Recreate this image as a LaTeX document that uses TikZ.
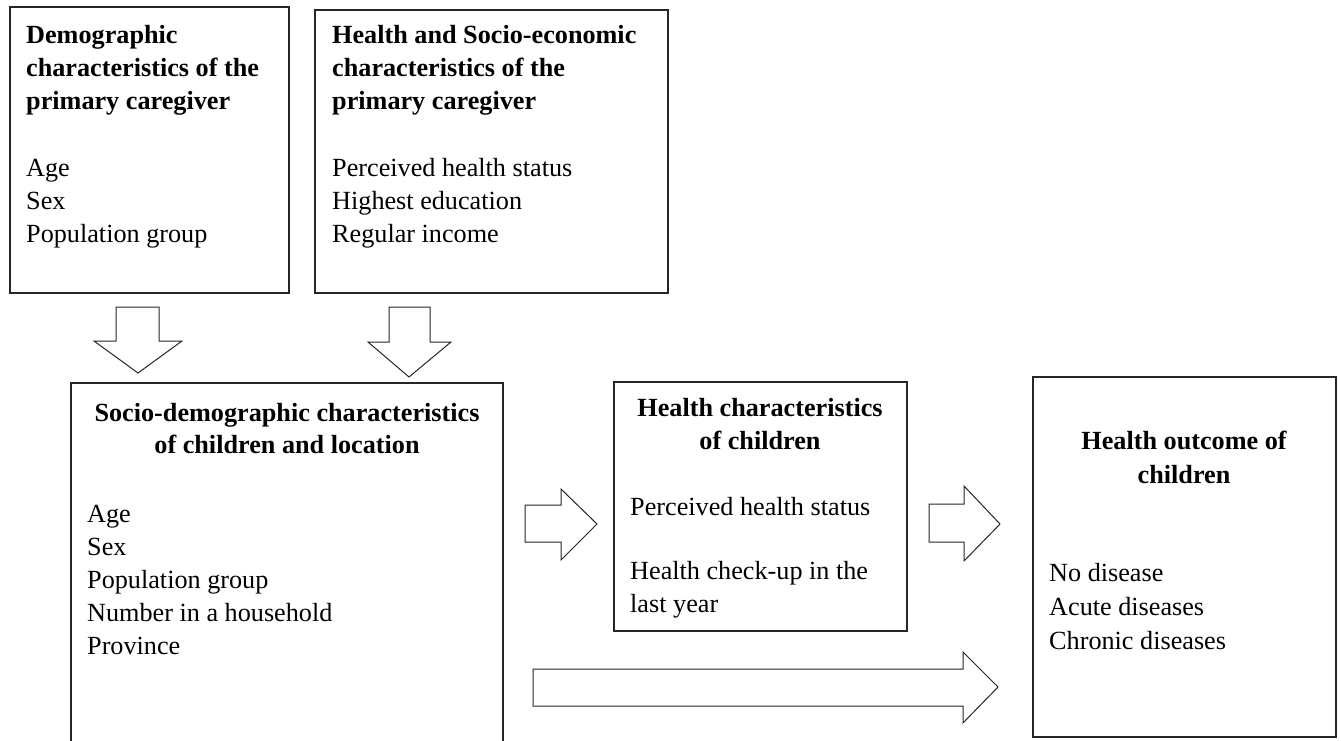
\documentclass[tikz,border=0pt]{standalone}
\usepackage{fontspec}
\setmainfont{Liberation Serif}
\begin{document}
\begin{tikzpicture}[x=1pt,y=-1pt,
  box/.style={draw=black!85, line width=1.2pt, inner sep=0pt},
  txt/.style={anchor=base west, inner sep=0pt, font=\fontsize{26.2}{33}\selectfont},
  ttl/.style={anchor=base west, inner sep=0pt, font=\fontsize{26.2}{33}\selectfont\bfseries},
  ctl/.style={anchor=base, inner sep=0pt, font=\fontsize{26.2}{33}\selectfont\bfseries},
  blockarrow/.style={draw=black!85, line width=1pt, fill=white, line join=miter}]
\useasboundingbox (0,0) rectangle (1341,740);
\clip (0,0) rectangle (1341,740);
% boxes
\draw[box] (10,7) rectangle (289,293);
\draw[box] (315,10) rectangle (668,293);
\draw[box] (71,383) rectangle (503,760);
\draw[box] (614,382) rectangle (907,631);
\draw[box] (1033,377) rectangle (1336,737);
% box A text
\node[ttl] (a1) at (26,43) {Demographic};
\node[ttl] (a2) at (26,76) {characteristics of the};
\node[ttl] (a3) at (26,109) {primary caregiver};
\node[txt] (a4) at (26,176) {Age};
\node[txt] (a5) at (26,209) {Sex};
\node[txt] (a6) at (26,242) {Population group};
% box B text
\node[ttl] (b1) at (332,43) {Health and Socio-economic};
\node[ttl] (b2) at (332,76) {characteristics of the};
\node[ttl] (b3) at (332,109) {primary caregiver};
\node[txt] (b4) at (332,176) {Perceived health status};
\node[txt] (b5) at (332,209) {Highest education};
\node[txt] (b6) at (332,242) {Regular income};
% box C text
\node[ctl] (c1) at (287,421) {Socio-demographic characteristics};
\node[ctl] (c2) at (287,453) {of children and location};
\node[txt] (c3) at (87,522) {Age};
\node[txt] (c4) at (87,555) {Sex};
\node[txt] (c5) at (87,588) {Population group};
\node[txt] (c6) at (87,621) {Number in a household};
\node[txt] (c7) at (87,654) {Province};
% box D text
\node[ctl] (d1) at (760,416) {Health characteristics};
\node[ctl] (d2) at (760,449) {of children};
\node[txt] (d3) at (630,515) {Perceived health status};
\node[txt] (d4) at (630,579) {Health check-up in the};
\node[txt] (d5) at (630,612) {last year};
% box E text
\node[ctl] (e1) at (1184,449) {Health outcome of};
\node[ctl] (e2) at (1184,483) {children};
\node[txt] (e3) at (1049,581) {No disease};
\node[txt] (e4) at (1049,615) {Acute diseases};
\node[txt] (e5) at (1049,649) {Chronic diseases};
% block arrows
\draw[blockarrow] (116,307) -- (159,307) -- (159,341) -- (182,341) -- (138,373) -- (94,341) -- (116,341) -- cycle;
\draw[blockarrow] (389,307) -- (430,307) -- (430,342) -- (451,342) -- (409,377) -- (368,342) -- (389,342) -- cycle;
\draw[blockarrow] (525,505) -- (561,505) -- (561,489) -- (597,524) -- (561,560) -- (561,542) -- (525,542) -- cycle;
\draw[blockarrow] (929,504) -- (964,504) -- (964,486) -- (1000,524) -- (964,561) -- (964,542) -- (929,542) -- cycle;
\draw[blockarrow] (533,669) -- (963,669) -- (963,652) -- (998,687) -- (963,723) -- (963,706) -- (533,706) -- cycle;
\end{tikzpicture}
\end{document}
